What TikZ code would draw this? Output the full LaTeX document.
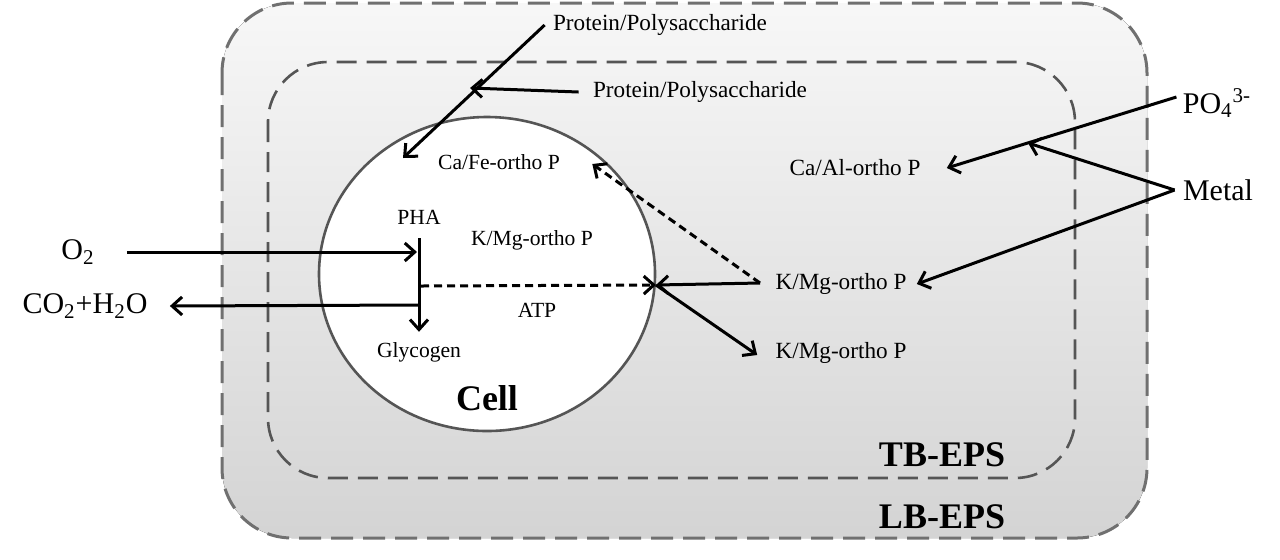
\documentclass[tikz,border=0pt]{standalone}
\usepackage{fontspec}
\setmainfont{Liberation Serif}
\usepackage{tikz}
\usetikzlibrary{arrows.meta, positioning, calc}
\usepackage{xcolor}
\definecolor{epsgray}{RGB}{112, 112, 112}
\definecolor{tbgray}{RGB}{85, 85, 85}

\begin{document}
\begin{tikzpicture}[
  x=0.5pt, y=-0.5pt,
  lbl/.style={inner sep=0pt, font=\fontsize{11.6}{13}\selectfont},
  inlbl/.style={inner sep=0pt, font=\fontsize{10.8}{12}\selectfont},
  biglbl/.style={inner sep=0pt, font=\fontsize{15}{17}\selectfont},
  layerlbl/.style={inner sep=0pt, font=\fontsize{18}{20}\selectfont\bfseries},
  arr/.style={-{Straight Barb[length=5pt, width=9pt]}, line width=1.5pt},
  darr/.style={arr, dash pattern=on 4pt off 2.5pt}
]
\useasboundingbox (0,0) rectangle (1280,559);

% layers
\fill[rounded corners=35pt, top color=black!3, bottom color=black!17]
  (222,3) rectangle (1147,538);
\draw[epsgray, line width=1.5pt, rounded corners=35pt, dash pattern=on 11pt off 5pt]
  (222,3) rectangle (1147,538);
\draw[tbgray, line width=1.3pt, rounded corners=30pt, dash pattern=on 10pt off 5pt]
  (268,62) rectangle (1075,478);
\draw[tbgray, line width=1.3pt, fill=white] (487,274) ellipse [x radius=84pt, y radius=78.5pt];

% labels
\node[lbl] (prot1) at (660,25) {Protein/Polysaccharide};
\node[lbl] (prot2) at (700,92) {Protein/Polysaccharide};
\node[inlbl] (cafe) at (499,162) {Ca/Fe-ortho P};
\node[inlbl] (pha) at (419,217) {PHA};
\node[inlbl] (kmgin) at (532,240) {K/Mg-ortho P};
\node[inlbl] (atp) at (537,310) {ATP};
\node[inlbl] (glyc) at (419,352) {Glycogen};
\node[layerlbl] (cell) at (487,398) {Cell};
\node[biglbl] (o2) at (78,252) {O\textsubscript{2}};
\node[biglbl] (co2) at (85,306) {CO\textsubscript{2}+H\textsubscript{2}O};
\node[lbl] (caal) at (855,168) {Ca/Al-ortho P};
\node[lbl] (kmg1) at (841,284) {K/Mg-ortho P};
\node[lbl] (kmg2) at (841,353) {K/Mg-ortho P};
\node[biglbl] (po4) at (1217,103) {PO\textsubscript{4}\textsuperscript{3-}};
\node[biglbl] (metal) at (1218,190) {Metal};
\node[layerlbl] (tb) at (942,455) {TB-EPS};
\node[layerlbl] (lb) at (942,517) {LB-EPS};

% junctions
\coordinate (inprot) at (403,158);
\coordinate (inprot2) at (470,88);
\coordinate (phatop) at (419,238);
\coordinate (phaleft) at (419,252);
\coordinate (phaout) at (419,305);
\coordinate (atpstart) at (421,286);
\coordinate (memb) at (656,285);
\coordinate (kmgstart) at (760,283);
\coordinate (po4meet) at (1028,143);

\draw[arr] ([xshift=-4pt]prot1.west) -- (inprot);
\draw[arr] ([xshift=-7pt]prot2.west) -- (inprot2);
\draw[arr] ([xshift=16pt]o2.east) -- ([xshift=-1pt]phaleft);
\draw[arr, shorten >=5pt] (phatop) -- (glyc.north);
\draw[arr] (phaout) -- ([xshift=11pt]co2.east);
\draw[darr] (atpstart) -- (memb);
\draw[darr] (kmgstart) -- ([xshift=16pt, yshift=-1pt]cafe.east);
\draw[arr] (kmgstart) -- (memb);
\draw[arr] (memb) -- ([xshift=-9pt, yshift=-1pt]kmg2.west);
\draw[arr] ([xshift=-3pt, yshift=3pt]po4.west) -- ([xshift=13pt]caal.east);
\draw[arr] ([xshift=-4pt]metal.west) -- (po4meet);
\draw[arr] ([xshift=-4pt]metal.west) -- ([xshift=5pt]kmg1.east);
\end{tikzpicture}
\end{document}
